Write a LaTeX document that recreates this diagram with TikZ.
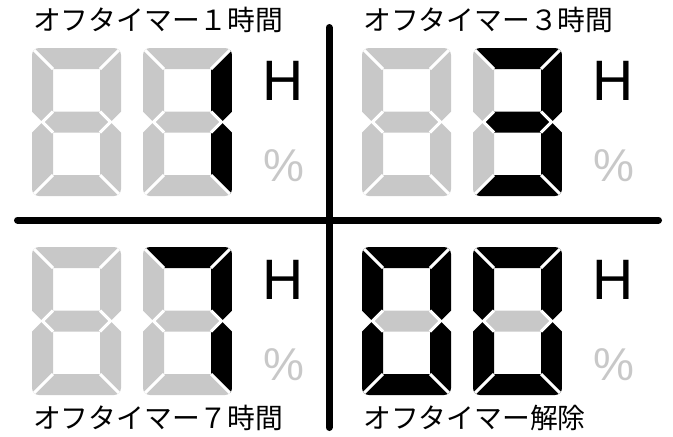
\documentclass[tikz,border=0pt]{standalone}
\usepackage{fontspec}
\setmainfont{Liberation Sans}
\newfontfamily\jpfont{Noto Sans CJK JP}
\definecolor{segoff}{RGB}{200,200,200}
\tikzset{
  gapline/.style={draw=white,line width=3pt,line cap=butt,line join=miter},
  divider/.style={line width=7pt,line cap=round},
  jplabel/.style={font=\jpfont\fontsize{27.8}{28}\selectfont,inner sep=0pt,anchor=west},
  unitH/.style={font=\fontsize{57}{57}\selectfont,inner sep=0pt},
  unitP/.style={font=\fontsize{46}{46}\selectfont,text=segoff,inner sep=0pt},
}
% #1 x, #2 y (top-left corner), #3..#9 colours of segments a b c d e f g
\newcommand\sevenseg[9]{%
  \begin{scope}[shift={(#1,#2)}]
    \begin{scope}
      \clip[rounded corners=7pt] (0,0) rectangle (89,148);
      \fill[#3] (0,0) -- (89,0) -- (68,21) -- (21,21) -- cycle;
      \fill[#4] (89,0) -- (89,63.5) -- (78.5,74) -- (68,63.5) -- (68,21) -- cycle;
      \fill[#5] (89,148) -- (89,84.5) -- (78.5,74) -- (68,84.5) -- (68,127) -- cycle;
      \fill[#6] (0,148) -- (89,148) -- (68,127) -- (21,127) -- cycle;
      \fill[#7] (0,148) -- (0,84.5) -- (10.5,74) -- (21,84.5) -- (21,127) -- cycle;
      \fill[#8] (0,0) -- (0,63.5) -- (10.5,74) -- (21,63.5) -- (21,21) -- cycle;
      \fill[#9] (10.5,74) -- (21,63.5) -- (68,63.5) -- (78.5,74) -- (68,84.5) -- (21,84.5) -- cycle;
      \draw[gapline] (-3,-3) -- (21,21) (92,-3) -- (68,21) (-3,151) -- (21,127) (92,151) -- (68,127)
        (21,63.5) -- (10.5,74) -- (21,84.5) (68,63.5) -- (78.5,74) -- (68,84.5);
    \end{scope}
  \end{scope}}
\begin{document}
\begin{tikzpicture}[x=1pt,y=-1pt]
\useasboundingbox (0,0) rectangle (673,437);
% dividers
\coordinate (vtop) at (329,27.5);
\coordinate (vbot) at (329,427.5);
\coordinate (hl) at (17.5,220);
\coordinate (hr) at (658.5,220);
\draw[divider] (vtop) -- (vbot);
\draw[divider] (hl) -- (hr);
% top-left: 1
\sevenseg{32}{48}{segoff}{segoff}{segoff}{segoff}{segoff}{segoff}{segoff}
\sevenseg{143}{48}{segoff}{black}{black}{segoff}{segoff}{segoff}{segoff}
% top-right: 3
\sevenseg{362}{48}{segoff}{segoff}{segoff}{segoff}{segoff}{segoff}{segoff}
\sevenseg{473}{48}{black}{black}{black}{black}{segoff}{segoff}{black}
% bottom-left: 7
\sevenseg{32}{247}{segoff}{segoff}{segoff}{segoff}{segoff}{segoff}{segoff}
\sevenseg{143}{247}{black}{black}{black}{segoff}{segoff}{segoff}{segoff}
% bottom-right: 00
\sevenseg{362}{247}{black}{black}{black}{black}{black}{black}{segoff}
\sevenseg{473}{247}{black}{black}{black}{black}{black}{black}{segoff}
% units
\node[unitH] (h1) at (283,81) {H};
\node[unitP] (p1) at (283.5,165.5) {\%};
\node[unitH] (h2) at (613,81) {H};
\node[unitP] (p2) at (613.5,165.5) {\%};
\node[unitH] (h3) at (283,280) {H};
\node[unitP] (p3) at (283.5,364.5) {\%};
\node[unitH] (h4) at (613,280) {H};
\node[unitP] (p4) at (613.5,364.5) {\%};
% labels
\node[jplabel] (l1) at (33,20) {オフタイマー１時間};
\node[jplabel] (l2) at (363,20) {オフタイマー３時間};
\node[jplabel] (l3) at (33,418) {オフタイマー７時間};
\node[jplabel] (l4) at (363,418) {オフタイマー解除};
\end{tikzpicture}
\end{document}
